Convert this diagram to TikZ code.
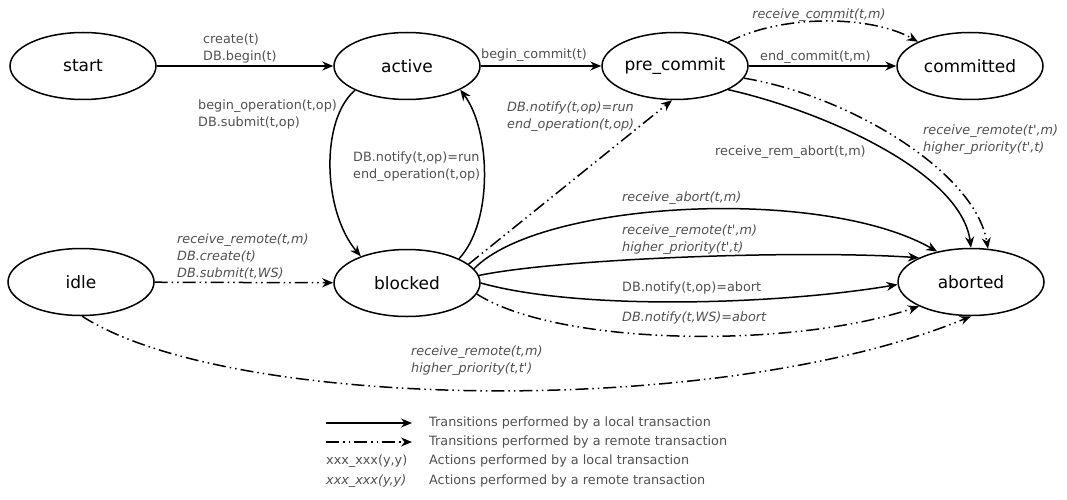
\documentclass[tikz,border=0pt]{standalone}
\usepackage{fontspec}
\setmainfont{DejaVu Sans}
\usetikzlibrary{shapes.geometric,arrows.meta}
\definecolor{labgray}{HTML}{505050}
\begin{document}
\begin{tikzpicture}[x=1pt, y=-1pt,
  state/.style={ellipse, draw, line width=1.5pt, minimum width=146pt, minimum height=67pt, inner sep=0pt, font=\fontsize{17}{20}\selectfont},
  local/.style={line width=1.5pt, -{Stealth[length=11pt,width=9pt]}},
  remote/.style={local, dash pattern=on 13pt off 4pt on 1.5pt off 4pt on 1.5pt off 4pt},
  lbl/.style={text=labgray, font=\fontsize{12.8}{17}\selectfont, align=left, inner sep=0pt, anchor=west},
  rlbl/.style={lbl, font=\fontsize{12.8}{17}\selectfont\itshape}]
  \useasboundingbox (0,0) rectangle (1067,500);
  \node[state] (start) at (83,66) {start};
  \node[state] (active) at (407,66) {active};
  \node[state] (pre) at (675,66) {pre\_commit};
  \node[state] (committed) at (970,66) {committed};
  \node[state] (idle) at (81,282) {idle};
  \node[state] (blocked) at (407,283) {blocked};
  \node[state] (aborted) at (971,282) {aborted};

  \draw[local] (start) -- (active);
  \draw[local] (active) -- (pre);
  \draw[local] (pre) -- (committed);
  \draw[remote] (pre.24) .. controls +(52,-28) and +(-48,-27) .. (committed.155);
  \draw[local] (active.205) .. controls +(-35,30) and +(-38,-45) .. (blocked.150);
  \draw[local] (blocked.25) .. controls +(35,-38) and +(30,40) .. (active.-24);
  \draw[remote] (blocked.17) -- (pre.265);
  \draw[local] (pre.-24) .. controls +(90,20) and +(-10,-77) .. (aborted.90);
  \draw[remote] (pre.-10) .. controls +(103,17) and +(-13,-78) .. (aborted.63);
  \draw[local] (blocked.12) .. controls +(66,-68) and +(-116,-66) .. (aborted.138);
  \draw[local] (blocked.6) .. controls +(82,-17) and +(-120,-8) .. (aborted.155);
  \draw[local] (blocked.0) .. controls +(100,28) and +(-119,20) .. (aborted.182);
  \draw[remote] (blocked.-9) .. controls +(82,52) and +(-128,43) .. (aborted.205);
  \draw[remote] (idle) -- (blocked);
  \draw[remote] (idle.272) .. controls +(147,95) and +(-250,103) .. (aborted.270);

  \node[lbl] (lcreate) at (203,48) {create(t)\\DB.begin(t)};
  \node[lbl] (lbegcom) at (481,55) {begin\_commit(t)};
  \node[lbl] (lendcom) at (760,57) {end\_commit(t,m)};
  \node[rlbl, anchor=center] (lrcvcom) at (819,15) {receive\_commit(t,m)};
  \node[lbl] (lbegop) at (198,114) {begin\_operation(t,op)\\DB.submit(t,op)};
  \node[lbl] (lrun) at (353,167) {DB.notify(t,op)=run\\end\_operation(t,op)};
  \node[rlbl] (lrrun) at (507,117) {DB.notify(t,op)=run\\end\_operation(t,op)};
  \node[lbl] (lremab) at (715,152) {receive\_rem\_abort(t,m)};
  \node[rlbl] (lrprio) at (923,140) {receive\_remote(t\textquotesingle,m)\\higher\_priority(t\textquotesingle,t)};
  \node[rlbl] (lrab) at (622,198) {receive\_abort(t,m)};
  \node[rlbl] (lrrem) at (622,240) {receive\_remote(t\textquotesingle,m)\\higher\_priority(t\textquotesingle,t)};
  \node[lbl] (lnotab) at (622,288) {DB.notify(t,op)=abort};
  \node[rlbl] (lnotws) at (622,318) {DB.notify(t,WS)=abort};
  \node[rlbl] (lidle) at (177,256) {receive\_remote(t,m)\\DB.create(t)\\DB.submit(t,WS)};
  \node[rlbl] (lidab) at (411,361) {receive\_remote(t,m)\\higher\_priority(t,t\textquotesingle)};

  \coordinate (k1a) at (326,423);
  \coordinate (k1b) at (412,423);
  \coordinate (k2a) at (326,442);
  \coordinate (k2b) at (412,442);
  \draw[local] (k1a) -- (k1b);
  \draw[remote] (k2a) -- (k2b);
  \node[lbl] (kloc) at (326,461) {xxx\_xxx(y,y)};
  \node[rlbl] (krem) at (326,481) {xxx\_xxx(y,y)};
  \node[lbl] (ktxt1) at (429,423) {Transitions performed by a local transaction};
  \node[lbl] (ktxt2) at (429,442) {Transitions performed by a remote transaction};
  \node[lbl] (ktxt3) at (429,461) {Actions performed by a local transaction};
  \node[lbl] (ktxt4) at (429,481) {Actions performed by a remote transaction};
\end{tikzpicture}
\end{document}
